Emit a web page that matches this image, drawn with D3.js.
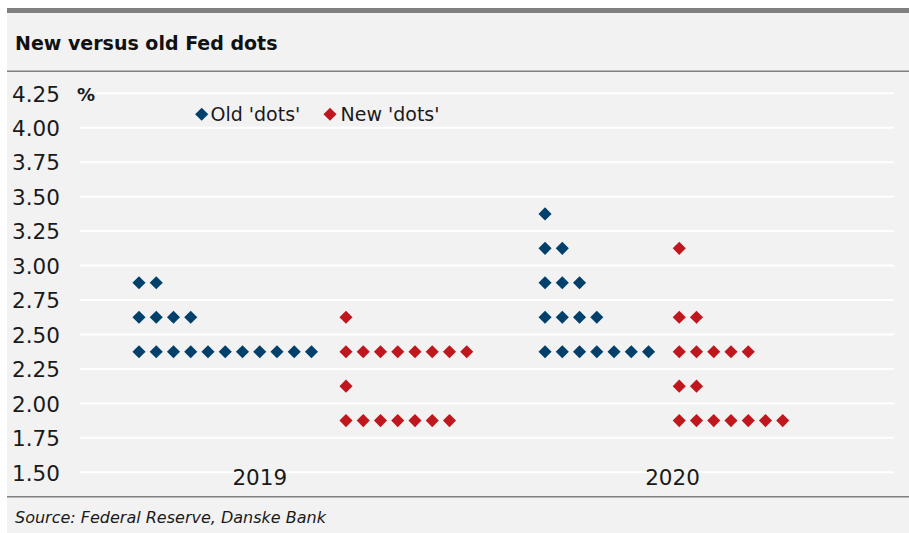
<!DOCTYPE html>
<html>
<head>
<meta charset="utf-8">
<script src="https://cdn.jsdelivr.net/npm/d3@7"></script>
<style>
  html, body { margin: 0; padding: 0; background: #ffffff; }
  svg { display: block; }
  text { font-family: "DejaVu Sans", sans-serif; fill: #1a1a1a; }
</style>
</head>
<body>
<svg id="chart" width="909" height="533"></svg>
<script>
// ---- data ----
const categories = ["2019", "2020"];
const rates = [3.375, 3.125, 2.875, 2.625, 2.375, 2.125, 1.875];
const old2019 = [0, 0, 2, 4, 11, 0, 0];
const new2019 = [0, 0, 0, 1, 8, 1, 7];
const old2020 = [1, 2, 3, 4, 7, 0, 0];
const new2020 = [0, 1, 0, 2, 5, 2, 7];
const yTicks = [1.50, 1.75, 2.00, 2.25, 2.50, 2.75, 3.00, 3.25, 3.50, 3.75, 4.00, 4.25];
const seriesNames = ["Old 'dots'", "New 'dots'"];

// ---- layout ----
const W = 909, H = 533;
const colors = { old: "#00406b", new: "#c0171f" };
const svg = d3.select("#chart");

const groups = [
  { counts: old2019, type: "old", start: 0 },
  { counts: new2019, type: "new", start: 12 },
  { counts: old2020, type: "old", start: 23.54 },
  { counts: new2020, type: "new", start: 31.32 }
];
const categorySlot = [7.0, 30.93];

const x = d3.scaleLinear().domain([-3.42, 43.77]).range([80, 894]);
const y = d3.scaleLinear().domain([1.5, 4.25]).range([472.3, 93.3]);

// panel background
svg.append("rect").attr("x", 7).attr("y", 8).attr("width", W - 7).attr("height", H - 8).attr("fill", "#f2f2f2");
// top bar
svg.append("rect").attr("x", 7).attr("y", 8).attr("width", W - 7).attr("height", 5).attr("fill", "#808080");
// title
svg.append("text").attr("x", 15).attr("y", 49.5)
  .style("font-family", "'DejaVu Sans', sans-serif")
  .style("font-weight", "bold").style("font-size", "19px").style("fill", "#111")
  .text("New versus old Fed dots");
// separators
svg.append("rect").attr("x", 7).attr("y", 70.5).attr("width", W - 7).attr("height", 1.5).attr("fill", "#808080");
svg.append("rect").attr("x", 7).attr("y", 496).attr("width", W - 7).attr("height", 1.5).attr("fill", "#808080");

// gridlines
svg.append("g").selectAll("line").data(yTicks).join("line")
  .attr("x1", d => d === 4.25 ? 96 : 80).attr("x2", 894)
  .attr("y1", d => y(d)).attr("y2", d => y(d))
  .attr("stroke", "#ffffff").attr("stroke-width", 2);

// y axis labels
const yAxis = d3.axisLeft(y).tickValues(yTicks).tickFormat(d3.format(".2f")).tickSize(0).tickPadding(0);
const yg = svg.append("g").attr("transform", "translate(12,0)").call(yAxis);
yg.select(".domain").remove();
yg.selectAll("text").attr("text-anchor", "start").attr("x", 0).attr("dy", "0.36em")
  .style("font-size", "21.5px").style("fill", "#1a1a1a").style("font-family", "'DejaVu Sans', sans-serif");

// % unit
svg.append("text").attr("x", 77).attr("y", 100.5)
  .style("font-weight", "bold").style("font-size", "18px").text("%");

// x category labels
svg.append("g").selectAll("text").data(categories).join("text")
  .attr("x", (d, i) => x(categorySlot[i])).attr("y", 485)
  .attr("text-anchor", "middle").style("font-size", "21.5px")
  .text(d => d);

// dots
const diamond = d3.symbol().type(d3.symbolSquare).size(86);
const dots = [];
groups.forEach(g => {
  g.counts.forEach((c, ri) => {
    for (let k = 0; k < c; k++) dots.push({ rate: rates[ri], slot: g.start + k, type: g.type });
  });
});
svg.append("g").selectAll("path").data(dots).join("path")
  .attr("d", diamond)
  .attr("transform", d => `translate(${x(d.slot)},${y(d.rate)}) rotate(45)`)
  .attr("fill", d => colors[d.type]);

// legend
const legendItems = [
  { name: seriesNames[0], type: "old", cx: 201.7, tx: 210.5 },
  { name: seriesNames[1], type: "new", cx: 330, tx: 340.5 }
];
const lg = svg.append("g");
legendItems.forEach(it => {
  lg.append("path").attr("d", diamond)
    .attr("transform", `translate(${it.cx},114.3) rotate(45)`)
    .attr("fill", colors[it.type]);
  lg.append("text").attr("x", it.tx).attr("y", 121).style("font-size", "19px").text(it.name);
});

// source
svg.append("text").attr("x", 15).attr("y", 523)
  .style("font-style", "italic").style("font-size", "16px").style("fill", "#1a1a1a")
  .text("Source: Federal Reserve, Danske Bank");
</script>
</body>
</html>
